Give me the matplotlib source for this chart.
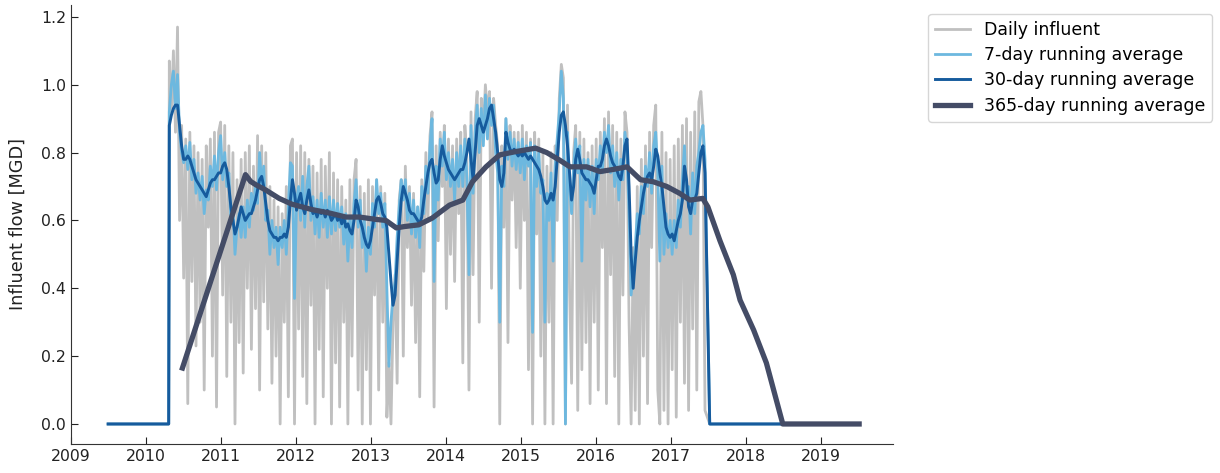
import numpy as np
import pandas as pd
import matplotlib
matplotlib.use("Agg")
import matplotlib.pyplot as plt
import matplotlib.dates as mdates

# Sampling grid for the plant's operating period (every 10 days)
grid_start = "2010-04-25"
grid_step = "10D"
plant_off_before = ("2009-07-01", "2010-04-22")   # no flow recorded yet
plant_off_after = ("2017-07-10", "2019-07-08")    # plant offline

# Daily influent flow [MGD]
daily_flow = [
    1.07, 0.92, 1.10, 0.86, 1.17, 0.60, 0.88, 0.43, 0.84, 0.06, 0.86, 0.42,
    0.82, 0.23, 0.80, 0.30, 0.78, 0.10, 0.82, 0.58, 0.84, 0.20, 0.86, 0.05,
    0.86, 0.89, 0.38, 0.88, 0.14, 0.82, 0.30, 0.80, 0.00, 0.72, 0.24, 0.78,
    0.15, 0.80, 0.40, 0.82, 0.22, 0.76, 0.34, 0.85, 0.10, 0.82, 0.36, 0.80,
    0.28, 0.70, 0.12, 0.66, 0.20, 0.64, 0.00, 0.62, 0.30, 0.70, 0.08, 0.82,
    0.84, 0.00, 0.80, 0.28, 0.82, 0.14, 0.80, 0.06, 0.78, 0.35, 0.76, 0.00,
    0.74, 0.22, 0.78, 0.08, 0.76, 0.40, 0.80, 0.00, 0.74, 0.18, 0.72, 0.05,
    0.70, 0.30, 0.66, 0.00, 0.72, 0.20, 0.72, 0.78, 0.10, 0.70, 0.00, 0.68,
    0.16, 0.72, 0.00, 0.70, 0.38, 0.72, 0.10, 0.70, 0.30, 0.68, 0.02, 0.18,
    0.00, 0.30, 0.44, 0.12, 0.66, 0.72, 0.20, 0.76, 0.52, 0.70, 0.35, 0.68,
    0.24, 0.64, 0.08, 0.72, 0.45, 0.80, 0.60, 0.85, 0.92, 0.05, 0.82, 0.54,
    0.86, 0.70, 0.88, 0.34, 0.84, 0.50, 0.82, 0.42, 0.84, 0.62, 0.86, 0.18,
    0.88, 0.78, 0.10, 0.92, 0.44, 0.90, 0.98, 0.30, 0.96, 0.86, 1.00, 0.92,
    0.98, 0.40, 0.96, 0.88, 0.82, 0.00, 0.82, 0.58, 0.90, 0.24, 0.88, 0.66,
    0.86, 0.52, 0.86, 0.40, 0.88, 0.60, 0.86, 0.16, 0.84, 0.00, 0.86, 0.56,
    0.84, 0.20, 0.80, 0.00, 0.76, 0.30, 0.80, 0.00, 0.82, 0.60, 0.96, 1.06,
    1.02, 0.00, 0.94, 0.40, 0.12, 0.80, 0.88, 0.04, 0.86, 0.16, 0.84, 0.24,
    0.80, 0.06, 0.82, 0.30, 0.84, 0.10, 0.86, 0.52, 0.90, 0.06, 0.92, 0.44,
    0.88, 0.14, 0.86, 0.00, 0.84, 0.38, 0.92, 0.86, 0.30, 0.00, 0.52, 0.04,
    0.70, 0.00, 0.78, 0.20, 0.82, 0.06, 0.86, 0.52, 0.88, 0.94, 0.10, 0.00,
    0.86, 0.04, 0.80, 0.00, 0.78, 0.16, 0.82, 0.02, 0.84, 0.30, 0.88, 0.12,
    0.90, 0.04, 0.86, 0.28, 0.92, 0.10, 0.95, 0.98, 0.88, 0.04,
]

# 7-day running average [MGD]
avg_7day = [
    0.92, 1.00, 1.04, 0.93, 1.03, 0.86, 0.80, 0.77, 0.82, 0.75, 0.83, 0.72,
    0.78, 0.68, 0.74, 0.66, 0.73, 0.62, 0.69, 0.66, 0.76, 0.70, 0.79, 0.69,
    0.80, 0.85, 0.72, 0.80, 0.70, 0.74, 0.60, 0.64, 0.50, 0.58, 0.62, 0.55,
    0.64, 0.55, 0.66, 0.58, 0.68, 0.63, 0.71, 0.65, 0.80, 0.70, 0.76, 0.60,
    0.63, 0.50, 0.60, 0.52, 0.58, 0.47, 0.58, 0.52, 0.60, 0.50, 0.64, 0.77,
    0.76, 0.37, 0.66, 0.70, 0.60, 0.73, 0.58, 0.70, 0.76, 0.60, 0.67, 0.56,
    0.66, 0.55, 0.68, 0.58, 0.66, 0.55, 0.67, 0.56, 0.66, 0.57, 0.65, 0.58,
    0.64, 0.53, 0.62, 0.48, 0.61, 0.52, 0.65, 0.72, 0.58, 0.66, 0.52, 0.60,
    0.45, 0.58, 0.50, 0.65, 0.58, 0.72, 0.62, 0.68, 0.58, 0.65, 0.40, 0.17,
    0.30, 0.38, 0.42, 0.55, 0.64, 0.72, 0.66, 0.72, 0.60, 0.68, 0.56, 0.66,
    0.55, 0.64, 0.52, 0.70, 0.62, 0.76, 0.68, 0.82, 0.90, 0.42, 0.76, 0.66,
    0.84, 0.76, 0.86, 0.72, 0.80, 0.70, 0.78, 0.66, 0.80, 0.70, 0.82, 0.70,
    0.84, 0.72, 0.44, 0.88, 0.68, 0.86, 0.94, 0.80, 0.93, 0.82, 0.97, 0.84,
    0.96, 0.88, 0.94, 0.80, 0.74, 0.30, 0.76, 0.70, 0.90, 0.78, 0.86, 0.76,
    0.84, 0.75, 0.83, 0.74, 0.84, 0.72, 0.82, 0.76, 0.83, 0.27, 0.82, 0.70,
    0.80, 0.68, 0.72, 0.30, 0.68, 0.60, 0.74, 0.48, 0.76, 0.84, 0.92, 1.04,
    0.96, 0.00, 0.86, 0.70, 0.62, 0.76, 0.84, 0.74, 0.82, 0.48, 0.78, 0.66,
    0.78, 0.64, 0.76, 0.62, 0.78, 0.72, 0.82, 0.74, 0.86, 0.80, 0.88, 0.74,
    0.82, 0.70, 0.80, 0.66, 0.78, 0.72, 0.86, 0.80, 0.62, 0.38, 0.45, 0.52,
    0.62, 0.56, 0.70, 0.62, 0.76, 0.70, 0.80, 0.68, 0.82, 0.86, 0.74, 0.48,
    0.76, 0.50, 0.62, 0.52, 0.60, 0.50, 0.60, 0.52, 0.66, 0.58, 0.72, 0.82,
    0.66, 0.70, 0.56, 0.74, 0.62, 0.76, 0.80, 0.86, 0.88, 0.78,
]

# 30-day running average [MGD]
avg_30day = [
    0.88, 0.91, 0.93, 0.94, 0.94, 0.88, 0.82, 0.78, 0.78, 0.79, 0.78, 0.76,
    0.74, 0.72, 0.71, 0.70, 0.69, 0.68, 0.67, 0.69, 0.71, 0.72, 0.72, 0.73,
    0.74, 0.74, 0.76, 0.77, 0.75, 0.70, 0.64, 0.60, 0.56, 0.58, 0.61, 0.64,
    0.62, 0.60, 0.61, 0.62, 0.62, 0.64, 0.66, 0.69, 0.72, 0.73, 0.70, 0.65,
    0.60, 0.57, 0.56, 0.55, 0.55, 0.54, 0.55, 0.55, 0.56, 0.55, 0.58, 0.66,
    0.72, 0.68, 0.63, 0.66, 0.68, 0.64, 0.62, 0.66, 0.69, 0.65, 0.62, 0.63,
    0.61, 0.63, 0.62, 0.63, 0.61, 0.63, 0.62, 0.60, 0.61, 0.62, 0.60, 0.61,
    0.59, 0.61, 0.58, 0.59, 0.57, 0.56, 0.60, 0.66, 0.64, 0.60, 0.58, 0.55,
    0.53, 0.52, 0.54, 0.58, 0.62, 0.66, 0.67, 0.65, 0.62, 0.61, 0.58, 0.50,
    0.42, 0.35, 0.38, 0.48, 0.58, 0.66, 0.70, 0.68, 0.66, 0.63, 0.62, 0.62,
    0.61, 0.60, 0.59, 0.61, 0.66, 0.70, 0.74, 0.77, 0.78, 0.74, 0.71, 0.72,
    0.78, 0.82, 0.79, 0.77, 0.75, 0.74, 0.73, 0.72, 0.73, 0.74, 0.75, 0.75,
    0.77, 0.80, 0.84, 0.78, 0.72, 0.80, 0.88, 0.90, 0.88, 0.86, 0.88, 0.90,
    0.93, 0.94, 0.90, 0.86, 0.80, 0.72, 0.70, 0.74, 0.86, 0.83, 0.81, 0.80,
    0.81, 0.80, 0.79, 0.80, 0.79, 0.80, 0.79, 0.78, 0.79, 0.78, 0.77, 0.76,
    0.75, 0.73, 0.70, 0.66, 0.65, 0.66, 0.68, 0.66, 0.70, 0.78, 0.86, 0.91,
    0.92, 0.88, 0.82, 0.74, 0.66, 0.70, 0.78, 0.81, 0.78, 0.74, 0.73, 0.72,
    0.72, 0.71, 0.70, 0.68, 0.72, 0.76, 0.76, 0.78, 0.82, 0.84, 0.82, 0.79,
    0.77, 0.76, 0.75, 0.73, 0.72, 0.76, 0.82, 0.84, 0.70, 0.50, 0.40, 0.48,
    0.55, 0.60, 0.64, 0.68, 0.71, 0.73, 0.74, 0.72, 0.76, 0.81, 0.79, 0.74,
    0.70, 0.64, 0.58, 0.56, 0.55, 0.56, 0.54, 0.57, 0.60, 0.62, 0.66, 0.76,
    0.72, 0.64, 0.62, 0.66, 0.66, 0.68, 0.74, 0.80, 0.82, 0.74,
]

# 365-day running average [MGD]
annual_dates = [
    "2010-06-28", "2011-05-01", "2011-05-26", "2011-06-21", "2011-08-07",
    "2011-10-12", "2011-12-13", "2012-03-20", "2012-06-12", "2012-09-01",
    "2012-11-06", "2013-01-26", "2013-03-15", "2013-05-05", "2013-06-14",
    "2013-08-22", "2013-10-27", "2014-01-19", "2014-03-25", "2014-05-11",
    "2014-07-16", "2014-09-20", "2014-12-09", "2015-03-15", "2015-05-08",
    "2015-07-09", "2015-08-29", "2015-11-18", "2016-01-22", "2016-03-24",
    "2016-06-02", "2016-08-07", "2016-10-08", "2016-12-13", "2017-02-13",
    "2017-04-05", "2017-06-06", "2017-07-01", "2017-08-29", "2017-11-02",
    "2017-12-05", "2018-02-09", "2018-04-12", "2018-07-01", "2019-07-08",
]
avg_365day = [
    0.165, 0.735, 0.715, 0.705, 0.690,
    0.665, 0.648, 0.632, 0.622, 0.610,
    0.610, 0.603, 0.600, 0.578, 0.582,
    0.587, 0.607, 0.645, 0.660, 0.714,
    0.758, 0.793, 0.803, 0.813, 0.800,
    0.778, 0.758, 0.758, 0.744, 0.750,
    0.758, 0.720, 0.714, 0.700, 0.680,
    0.660, 0.665, 0.640, 0.540, 0.440,
    0.365, 0.277, 0.180, 0.000, 0.000,
]

series_labels = ["Daily influent", "7-day running average",
                 "30-day running average", "365-day running average"]
series_colors = ["#c0c0c0", "#6db8df", "#165b9d", "#444c66"]
series_widths = [2.0, 2.0, 2.1, 3.8]


def with_idle_periods(values):
    """Attach the zero-flow periods before start-up and after shutdown."""
    active = pd.Series(values, index=pd.date_range(grid_start, periods=len(values), freq=grid_step))
    before = pd.Series([0.0, 0.0], index=pd.to_datetime(list(plant_off_before)))
    after = pd.Series([0.0, 0.0], index=pd.to_datetime(list(plant_off_after)))
    return pd.concat([before, active, after])


flows = [with_idle_periods(daily_flow), with_idle_periods(avg_7day),
         with_idle_periods(avg_30day),
         pd.Series(avg_365day, index=pd.to_datetime(annual_dates))]

fig = plt.figure(figsize=(12.2, 4.73), dpi=100)
ax = fig.add_axes([71 / 1220, 29 / 473, 822 / 1220, 439 / 473])

for s, lab, col, lw in zip(flows, series_labels, series_colors, series_widths):
    ax.plot(s.index, s.values, color=col, lw=lw, label=lab, solid_joinstyle="round")

ax.set_xlim(pd.Timestamp("2009-01-01"), pd.Timestamp("2019-12-20"))
ax.set_ylim(-0.059, 1.235)
ax.set_yticks([0.0, 0.2, 0.4, 0.6, 0.8, 1.0, 1.2])
ax.xaxis.set_major_locator(mdates.YearLocator())
ax.xaxis.set_major_formatter(mdates.DateFormatter("%Y"))

for side in ("top", "right"):
    ax.spines[side].set_visible(False)
for side in ("left", "bottom"):
    ax.spines[side].set_color("#333333")
ax.tick_params(direction="in", length=5, labelsize=11.3, colors="#222222")
ax.set_ylabel("Influent flow [MGD]", fontsize=12.8, color="#222222", labelpad=10)

ax.legend(loc="upper left", bbox_to_anchor=(1.043, 0.98), fontsize=12.5,
          frameon=True, handlelength=2.0, labelspacing=0.42, borderaxespad=0.0)

fig.savefig("out.png", dpi=100)
